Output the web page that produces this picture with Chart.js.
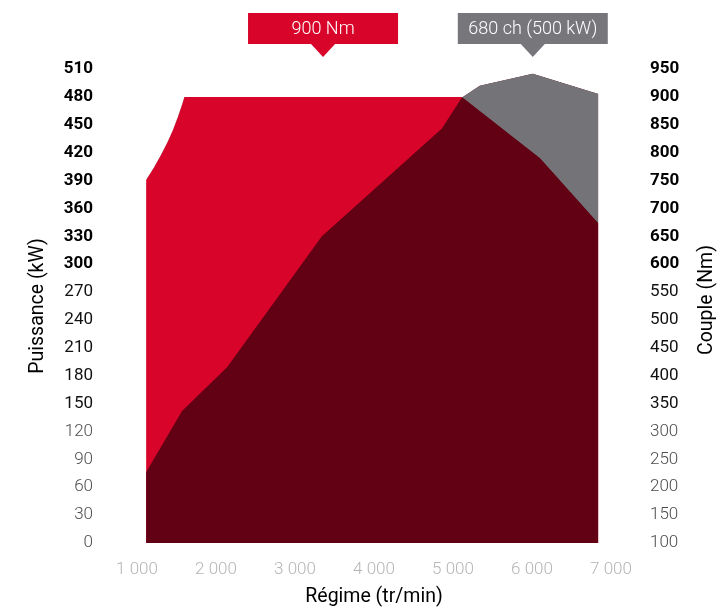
<!DOCTYPE html>
<html>
<head>
<meta charset="utf-8">
<script src="https://cdn.jsdelivr.net/npm/chart.js@4.4.0/dist/chart.umd.min.js"></script>
<style>
    body { margin: 0; background: #fff; }
    #wrap { width: 723px; height: 610px; }
</style>
</head>
<body>
<div id="wrap"><canvas id="powerChart" width="723" height="610"></canvas></div>
<script>
// Puissance (kW) vs régime
const powerRpm = [1115, 1570, 2140, 3340, 4860, 5110, 5340, 6010, 6840];
const powerKw = [76, 142, 189, 330, 446, 479, 492, 505, 483];

// Couple (Nm) vs régime
const torqueRpm = [1115, 1213, 1303, 1384, 1454, 1515, 1568, 1600, 5110, 6100, 6840];
const torqueNm = [751, 773, 796, 818, 840, 863, 885, 900, 900, 790, 673];

// axes
const rpmTicks = [1000, 2000, 3000, 4000, 5000, 6000, 7000];
const kwTicks = [0, 30, 60, 90, 120, 150, 180, 210, 240, 270, 300, 330, 360, 390, 420, 450, 480, 510];
const nmTicks = [100, 150, 200, 250, 300, 350, 400, 450, 500, 550, 600, 650, 700, 750, 800, 850, 900, 950];

const bannerTorque = "900 Nm";
const bannerPower = "680 ch (500 kW)";
const rightTitle = "Couple (Nm)";

const colors = {
    red: "#d9042a",
    dark: "#620014",
    grey: "#737378",
    bannerGrey: "#77767b",
};

const FONT = "Roboto";
const TITLE_SIZE = 19.5;
const TICK_SIZE = 17;

function points(xs, ys) {
    return xs.map((x, i) => ({ x: x, y: ys[i] }));
}

function fmtThousands(v) {
    return String(v).replace(/\B(?=(\d{3})+(?!\d))/g, " ");
}

// tick styling: bold for the top range, regular middle, light bottom
function tickStyle(c, boldFrom, normalFrom) {
    const v = c && c.tick ? c.tick.value : normalFrom;
    if (v >= boldFrom) return { font: { family: FONT, size: TICK_SIZE, weight: "bold" }, color: "#000" };
    if (v >= normalFrom) return { font: { family: FONT, size: TICK_SIZE, weight: "normal" }, color: "#111" };
    return { font: { family: FONT, size: TICK_SIZE, weight: "300" }, color: "#4d4d4d" };
}

function drawBanner(ctx, cx, text, fill) {
    const w = 150, h = 31, top = 13, tri = 12, tip = 57;
    ctx.save();
    ctx.fillStyle = fill;
    ctx.fillRect(cx - w / 2, top, w, h);
    ctx.beginPath();
    ctx.moveTo(cx - tri, top + h);
    ctx.lineTo(cx + tri, top + h);
    ctx.lineTo(cx, tip);
    ctx.closePath();
    ctx.fill();
    ctx.fillStyle = "#fff";
    ctx.font = "300 18px " + FONT;
    ctx.textAlign = "center";
    ctx.textBaseline = "middle";
    ctx.fillText(text, cx, top + h / 2 + 1);
    ctx.restore();
}

const bannerPlugin = {
    id: "banners",
    afterDraw(chart) {
        const x = chart.scales.x;
        const ctx = chart.ctx;
        const area = chart.chartArea;
        // torque plateau centre
        const maxNm = Math.max(...torqueNm);
        const plateau = torqueRpm.filter((r, i) => torqueNm[i] === maxNm);
        const plateauMid = (plateau[0] + plateau[plateau.length - 1]) / 2;
        drawBanner(ctx, x.getPixelForValue(plateauMid), bannerTorque, colors.red);
        // peak power
        const peakIdx = powerKw.indexOf(Math.max(...powerKw));
        drawBanner(ctx, x.getPixelForValue(powerRpm[peakIdx]), bannerPower, colors.bannerGrey);

        // right axis title, read bottom-to-top like the left one
        ctx.save();
        ctx.translate(chart.width - 16, (area.top + area.bottom) / 2 - 6);
        ctx.rotate(-Math.PI / 2);
        ctx.fillStyle = "#000";
        ctx.font = TITLE_SIZE + "px " + FONT;
        ctx.textAlign = "center";
        ctx.textBaseline = "middle";
        ctx.fillText(rightTitle, 0, 0);
        ctx.restore();
    },
};

const ctx = document.getElementById("powerChart");
new Chart(ctx, {
    type: "line",
    data: {
        datasets: [
            {
                label: "Couple",
                data: points(torqueRpm, torqueNm),
                yAxisID: "y1",
                fill: "origin",
                backgroundColor: colors.red,
                borderWidth: 0,
                pointRadius: 0,
                order: 3,
            },
            {
                label: "Puissance",
                data: points(powerRpm, powerKw),
                yAxisID: "y",
                fill: "origin",
                backgroundColor: colors.dark,
                borderWidth: 0,
                pointRadius: 0,
                order: 2,
            },
            {
                label: "Puissance (au-dessus du couple)",
                data: points(powerRpm, powerKw),
                yAxisID: "y",
                fill: { target: 0, above: colors.grey, below: "rgba(0,0,0,0)" },
                backgroundColor: colors.grey,
                borderWidth: 0,
                pointRadius: 0,
                order: 1,
            },
        ],
    },
    options: {
        responsive: false,
        animation: false,
        layout: { padding: { top: 69, left: 0, right: 0, bottom: 0 } },
        plugins: {
            legend: { display: false },
            tooltip: { enabled: false },
        },
        scales: {
            x: {
                type: "linear",
                min: rpmTicks[0],
                max: rpmTicks[rpmTicks.length - 1],
                afterBuildTicks: (s) => { s.ticks = rpmTicks.map((v) => ({ value: v })); },
                afterFit: (s) => { s.height = 67; },
                grid: { display: false, drawTicks: false },
                border: { display: false },
                ticks: {
                    padding: 17,
                    color: "#b5b5b8",
                    font: { family: FONT, size: TICK_SIZE, weight: "300" },
                    callback: (v) => fmtThousands(v),
                },
                title: {
                    display: true,
                    text: "Régime (tr/min)",
                    color: "#000",
                    font: { family: FONT, size: TITLE_SIZE },
                    padding: { top: 0, bottom: 1 },
                },
            },
            y: {
                position: "left",
                min: kwTicks[0],
                max: kwTicks[kwTicks.length - 1],
                afterBuildTicks: (s) => { s.ticks = kwTicks.map((v) => ({ value: v })); },
                afterFit: (s) => { s.width = 137; },
                grid: { display: false, drawTicks: false },
                border: { display: false },
                ticks: {
                    padding: 44,
                    font: (c) => tickStyle(c, 300, 150).font,
                    color: (c) => tickStyle(c, 300, 150).color,
                },
                title: {
                    display: true,
                    text: "Puissance (kW)",
                    color: "#000",
                    font: { family: FONT, size: TITLE_SIZE },
                    padding: { top: 26, bottom: 0 },
                },
            },
            y1: {
                position: "right",
                min: nmTicks[0],
                max: nmTicks[nmTicks.length - 1],
                afterBuildTicks: (s) => { s.ticks = nmTicks.map((v) => ({ value: v })); },
                afterFit: (s) => { s.width = 112; },
                grid: { display: false, drawTicks: false },
                border: { display: false },
                ticks: {
                    padding: 39,
                    font: (c) => tickStyle(c, 600, 350).font,
                    color: (c) => tickStyle(c, 600, 350).color,
                },
                title: { display: false },
            },
        },
    },
    plugins: [bannerPlugin],
});
</script>
</body>
</html>
